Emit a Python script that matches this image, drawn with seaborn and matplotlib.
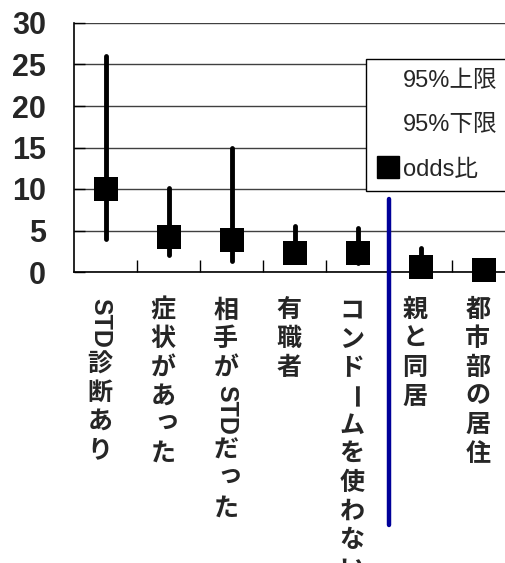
import matplotlib
matplotlib.use("Agg")
import matplotlib.pyplot as plt
from matplotlib import font_manager
from matplotlib.lines import Line2D
import pandas as pd
import seaborn as sns

# データ
categories = ["STD診断あり", "症状があった", "相手がSTDだった", "有職者",
              "コンドームを使わない", "親と同居", "都市部の居住"]
odds = [10.0, 4.2, 3.9, 2.3, 2.3, 0.6, 0.25]
upper = [26.0, 10.1, 15.0, 5.5, 5.3, 2.9, 0.5]
lower = [4.0, 2.0, 1.3, 1.2, 1.1, 0.2, 0.1]
yticks = [0, 5, 10, 15, 20, 25, 30]
legend_labels = ["95%上限", "95%下限", "odds比"]

df = pd.DataFrame({"項目": categories, "odds": odds, "上限": upper, "下限": lower})
df["x"] = range(len(df))

sns.set_theme(style="white")
plt.rcParams["font.family"] = ["Liberation Sans", "Noto Sans CJK JP", "DejaVu Sans"]

fig = plt.figure(figsize=(5.05, 5.63), dpi=100)
ax = fig.add_axes([74 / 505, 1 - 272 / 563, 441 / 505, 249 / 563])

# 95%信頼区間の線
ax.vlines(df["x"], df["下限"], df["上限"], color="black", lw=3.5,
          capstyle="round", zorder=3)
# odds比の四角
sns.scatterplot(data=df, x="x", y="odds", marker="s", s=17 ** 2, color="black",
                edgecolor="black", linewidth=0, ax=ax, zorder=4, clip_on=False,
                legend=False)

ax.set_xlim(-0.5, len(categories) - 0.5)
ax.set_ylim(0, 30)
ax.set_yticks(yticks)
ax.set_yticklabels([str(v) for v in yticks], fontsize=22, fontweight="bold",
                   family=["Liberation Sans", "DejaVu Sans"])
ax.tick_params(axis="y", direction="in", length=8, width=1, color="black",
               pad=20, left=True)
ax.yaxis.grid(True, color="#404040", lw=1)
ax.set_axisbelow(True)

ax.set_xticks(df["x"])
ax.set_xticklabels([])
ax.tick_params(axis="x", which="major", length=0)
ax.set_xticks([i + 0.5 for i in range(len(categories) - 1)], minor=True)
ax.tick_params(axis="x", which="minor", direction="in", length=9, width=1,
               color="black", bottom=True)
ax.set_xlabel("")
ax.set_ylabel("")

for s in ["top", "right"]:
    ax.spines[s].set_visible(False)
for s in ["left", "bottom"]:
    ax.spines[s].set_color("black")
    ax.spines[s].set_linewidth(1.2)

# 区切りの青線
ax.plot([4.5, 4.5], [8.8, -30.5], color="#000099", lw=3.2, clip_on=False, zorder=5)

# 縦書きのラベル
fig.canvas.draw()
renderer = fig.canvas.get_renderer()
fs = 18
pitch = fs * 1.15
small = "っゃゅょ"
lab_font = ["Liberation Sans", "Noto Sans CJK JP"]
for i, lab in enumerate(categories):
    off = 19.0
    j = 0
    while j < len(lab):
        ch = lab[j]
        if ch.isascii():
            run = ""
            while j < len(lab) and lab[j].isascii():
                run += lab[j]
                j += 1
            t = ax.annotate(run, xy=(i, 0), xycoords=("data", "axes fraction"),
                            xytext=(-4, -off), textcoords="offset points",
                            ha="center", va="top", rotation=-90, fontsize=fs,
                            fontweight="bold", family=lab_font, annotation_clip=False)
            h = t.get_window_extent(renderer).height * 72 / fig.dpi
            off += h + 3
            continue
        rot = -90 if ch == "ー" else 0
        dx, dy = (-4, 0)
        if ch in small:
            dx, dy = (-1, 3)
        ax.annotate(ch, xy=(i, 0), xycoords=("data", "axes fraction"),
                    xytext=(dx, -off + dy), textcoords="offset points",
                    ha="center", va="top", rotation=rot, fontsize=fs,
                    fontweight="bold", family=["Noto Sans CJK JP"],
                    annotation_clip=False)
        off += pitch
        j += 1

# 凡例
names = {f.name for f in font_manager.fontManager.ttflist}
if "Liberation Sans Narrow" in names:
    leg_font, leg_size = ["Liberation Sans Narrow", "Noto Sans CJK JP"], 20
else:
    leg_font, leg_size = ["Liberation Sans", "Noto Sans CJK JP"], 17
handles = [Line2D([], [], color="none", marker="s", markerfacecolor="none",
                  markeredgecolor="none", markersize=16, linestyle="none"),
           Line2D([], [], color="none", marker="s", markerfacecolor="none",
                  markeredgecolor="none", markersize=16, linestyle="none"),
           Line2D([], [], color="black", marker="s", markersize=16, linestyle="none")]
leg = ax.legend(handles, legend_labels, loc="upper left",
                bbox_to_anchor=(0.662, 0.855), frameon=True,
                fancybox=False, edgecolor="black", framealpha=1,
                prop={"family": leg_font, "size": leg_size},
                handlelength=0.95, handletextpad=0.15, labelspacing=0.95,
                borderpad=0.45, borderaxespad=0)
leg.get_frame().set_linewidth(1)

fig.savefig("out.png", dpi=100)
